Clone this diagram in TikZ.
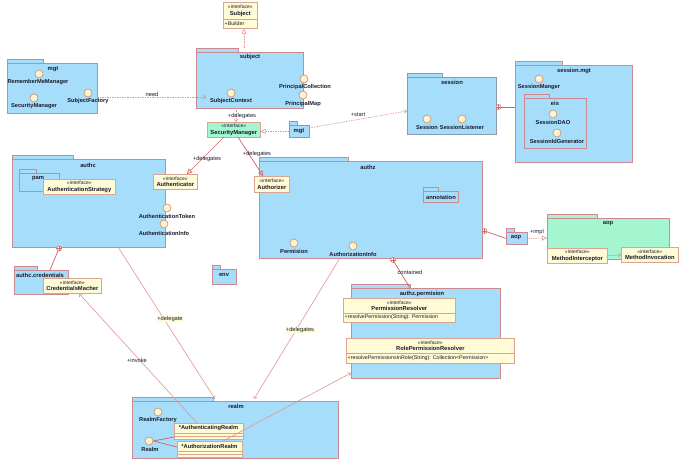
\documentclass[tikz,border=0pt]{standalone}
\usepackage{fontspec}
\setmainfont{Liberation Sans}
\usetikzlibrary{arrows.meta}
\definecolor{pkgfill}{HTML}{A6DDFB}
\definecolor{pkgline}{HTML}{CC8A90}
\definecolor{grayline}{HTML}{8A9BB0}
\definecolor{iffill}{HTML}{FFFBD6}
\definecolor{ifline}{HTML}{D9A58E}
\definecolor{greenfill}{HTML}{A4F6D0}
\definecolor{circfill}{HTML}{FFF2CF}
\definecolor{circline}{HTML}{C8906E}
\definecolor{conn}{HTML}{D06464}
\definecolor{connl}{HTML}{E39494}
\definecolor{txt}{HTML}{1A1A2A}
\tikzset{
 pkgb/.style={draw=pkgline, fill=pkgfill, line width=0.8pt, inner sep=0pt},
 pkgt/.style={draw=pkgline, fill=pkgfill, line width=0.8pt},
 ptitle/.style={font=\fontsize{5.8}{6.3}\selectfont\bfseries, text=txt, inner sep=0pt},
 lbl/.style={font=\fontsize{5.7}{6.3}\selectfont\bfseries, text=txt, inner sep=0pt},
 ifc/.style={draw=ifline, fill=iffill, line width=0.7pt, align=center, inner sep=0.5pt, font=\fontsize{5.8}{6.3}\selectfont, text=txt},
 attr/.style={font=\fontsize{5.3}{6}\selectfont, text=txt, inner sep=0pt},
 circ/.style={circle, draw=circline, fill=circfill, minimum size=8pt, inner sep=0pt, line width=0.6pt},
 dep/.style={draw=connl, dash pattern=on 1.5pt off 1pt, line width=0.6pt},
 sol/.style={draw=conn, line width=0.7pt},
 soll/.style={draw=connl, line width=0.6pt},
 opentri/.style={-{Triangle[open,length=5pt,width=5pt]}},
 openarr/.style={-{Straight Barb[length=2.5pt,width=4pt]}},
 clbl/.style={font=\fontsize{5.7}{6.3}\selectfont, text=txt, inner sep=0.5pt},
 ylbl/.style={clbl, fill=iffill},
 cplus/.style={circle, draw=conn, fill=white, minimum size=5pt, inner sep=0pt, line width=0.5pt,
   path picture={\draw[conn, line width=0.4pt] (path picture bounding box.north) -- (path picture bounding box.south) (path picture bounding box.west) -- (path picture bounding box.east);}},
}
\newcommand\ifname[1]{{\fontsize{5}{6.3}\selectfont «interface»}\\{\bfseries #1}}
\newcommand\pkgdraw[7][]{%
 \draw[pkgt,#1] (#3,#4-4) rectangle (#7,#4);
 \node[pkgb,#1,minimum width=#5-#3,minimum height=#6-#4,anchor=north west] (#2) at (#3,#4) {};}
\newcommand\icon[6]{\node[circ] (#1) at (#2,#3) {}; \node[lbl] (#1l) at (#4,#5) {#6};}
\begin{document}
\begin{tikzpicture}[x=1pt,y=-1pt]
\useasboundingbox[fill=white] (0,0) rectangle (690,470);

% ---------- packages ----------
\pkgdraw{subjectP}{196}{52}{303}{108}{238}
\pkgdraw{mgtP}{7}{63}{97}{113}{43}
\pkgdraw[draw=grayline]{mgtS}{289}{125}{309}{137}{297}
\pkgdraw[draw=grayline]{sessionP}{407}{77}{496}{134}{442}
\pkgdraw{smgtP}{515}{65}{632}{162}{562}
\pkgdraw{eisP}{524}{98}{586}{148}{549}
\pkgdraw{authcP}{12}{159}{165}{247}{73}
\pkgdraw{pamP}{19}{173}{59}{191}{36}
\pkgdraw{credP}{14}{270}{68}{294}{37}
\pkgdraw{envP}{212}{269}{236}{284}{220}
\pkgdraw{authzP}{259}{161}{482}{258}{348}
\pkgdraw{annoP}{423}{191}{458}{202}{438}
\pkgdraw{aopS}{506}{232}{527}{244}{514}
\pkgdraw[fill=greenfill]{aopP}{547}{218}{669}{259}{597}
\pkgdraw{permP}{351}{288}{500}{378}{410}
\pkgdraw{realmP}{132}{401}{338}{458}{213}

% ---------- package titles ----------
\node[ptitle] (subjectT) at (250,57) {subject};
\node[ptitle] (mgtT) at (53,69) {mgt};
\node[ptitle] (mgtST) at (299,131.5) {mgt};
\node[ptitle] (sessionT) at (452,82.5) {session};
\node[ptitle] (smgtT) at (574,71) {session.mgt};
\node[ptitle] (eisT) at (555,103.5) {eis};
\node[ptitle] (authcT) at (88,165) {authc};
\node[ptitle] (pamT) at (38,178.5) {pam};
\node[ptitle] (credT) at (40,275) {authc.credentials};
\node[ptitle] (envT) at (224,275) {env};
\node[ptitle] (authzT) at (368,167) {authz};
\node[ptitle] (annoT) at (441,197) {annotation};
\node[ptitle] (aopST) at (516,237.5) {aop};
\node[ptitle] (aopT) at (608,224) {aop};
\node[ptitle] (permT) at (422,294) {authz.permision};
\node[ptitle] (realmT) at (236,406) {realm};

% ---------- interfaces ----------
\node[ifc, minimum width=34, minimum height=17, anchor=north west] (subjectI) at (223,2) {\ifname{Subject}};
\node[ifc, minimum width=34, minimum height=9, anchor=north west] (subjectIb) at (223,19) {};
\node[attr, anchor=west] (subjectIbt) at (224.5,23.5) {+Builder};

\node[ifc, fill=greenfill, minimum width=53, minimum height=15, anchor=north west] (SM) at (207,122) {\ifname{SecurityManager}};
\node[ifc, minimum width=44, minimum height=15, anchor=north west] (authI) at (153,174) {\ifname{Authenticator}};
\node[ifc, minimum width=72, minimum height=15, anchor=north west] (stratI) at (43,179) {\ifname{AuthenticationStrategy}};
\node[ifc, minimum width=35, minimum height=16, anchor=north west] (authzI) at (254,176) {\ifname{Authorizer}};
\node[ifc, minimum width=58, minimum height=15, anchor=north west] (credI) at (43,278) {\ifname{CredentialsMacher}};
\node[ifc, minimum width=60, minimum height=15, anchor=north west] (miI) at (547,248) {\ifname{MethodInterceptor}};
\node[ifc, minimum width=57, minimum height=15, anchor=north west] (mvI) at (621,247) {\ifname{MethodInvocation}};

\node[ifc, minimum width=112, minimum height=15, anchor=north west] (prI) at (343,298) {\ifname{PermissionResolver}};
\node[ifc, minimum width=112, minimum height=9, anchor=north west] (prIb) at (343,313) {};
\node[attr, anchor=west] (prIbt) at (344.5,317.5) {+resolvePermission(String): Permission};

\node[ifc, minimum width=168, minimum height=15, anchor=north west] (rprI) at (346,338) {\ifname{RolePermissionResolver}};
\node[ifc, minimum width=168, minimum height=10, anchor=north west] (rprIb) at (346,353) {};
\node[attr, anchor=west] (rprIbt) at (347.5,358) {+resolvePermissionsInRole(String): Collection<Permission>};

% ---------- realm classes ----------
\node[ifc, minimum width=69, minimum height=10, anchor=north west] (aRealm) at (174,423) {};
\node[lbl] (aRealmT) at (208.5,428) {*AuthenticatingRealm};
\node[ifc, minimum width=69, minimum height=3, anchor=north west] (aRealm2) at (174,433) {};
\node[ifc, minimum width=69, minimum height=3, anchor=north west] (aRealm3) at (174,436) {};
\node[ifc, minimum width=65, minimum height=10, anchor=north west] (zRealm) at (177,441) {};
\node[lbl] (zRealmT) at (209.5,446) {*AuthorizationRealm};
\node[ifc, minimum width=65, minimum height=3, anchor=north west] (zRealm2) at (177,451) {};
\node[ifc, minimum width=65, minimum height=3, anchor=north west] (zRealm3) at (177,454) {};

% ---------- interface circles ----------
\icon{sctx}{231}{93}{231}{101}{SubjectContext}
\icon{pcol}{304}{79}{305}{87}{PrincipalCollection}
\icon{pmap}{303}{95}{303}{104}{PrincipalMap}
\icon{rmm}{39}{74}{38}{82}{RememberMeManager}
\icon{secm}{34}{98}{34}{106}{SecurityManager}
\icon{sfac}{88}{93}{88}{101}{SubjectFactory}
\icon{sess}{427}{119}{427}{127}{Session}
\icon{sesl}{462}{119}{462}{127}{SessionListener}
\icon{smgr}{539}{79}{539}{87}{SessionManger}
\icon{sdao}{553}{114}{553}{122}{SessionDAO}
\icon{sidg}{557}{133}{557}{141}{SessionIdGenerator}
\icon{atok}{167}{208}{167}{216}{AuthenticationToken}
\icon{ainf}{164}{224}{164}{233}{AuthenticationInfo}
\icon{perm}{294}{243}{294}{251}{Permision}
\icon{zinf}{353}{246}{353}{254}{AuthorizationInfo}
\icon{rfac}{158}{412}{158}{420}{RealmFactory}
\icon{realmC}{149}{441}{150}{449}{Realm}

% ---------- connectors ----------
\coordinate (subjUp) at (244,48);
\draw[dep, opentri] (subjUp) -- (subjUp |- subjectIb.south);

\coordinate (needS) at (97,97);
\coordinate (needE) at (206,97);
\draw[dep, openarr] (needS) -- (needE);
\node[clbl] (needL) at (152,94.5) {need};

\coordinate (smDelS) at (236,108);
\draw[dep, openarr] (smDelS) -- (smDelS |- SM.north);
\node[clbl] (smDelL) at (242,116) {+delegates};

\draw[dep, opentri] (mgtS.west) -- (SM.east |- mgtS.west);

\coordinate (startS) at (309,128);
\coordinate (startE) at (407,111);
\draw[dep, openarr] (startS) -- (startE);
\node[clbl] (startL) at (358,114.5) {+start};

\node[cplus] (cpSess) at (498.5,107) {};
\draw[sol] (cpSess) -- (smgtP.west |- cpSess);

\coordinate (smA) at (224,137);
\coordinate (smB) at (238,137);
\draw[sol, opentri] (smA) -- (187,174);
\node[clbl] (smAL) at (207,159) {+delegates};
\draw[sol, opentri] (smB) -- (263,176);
\node[clbl] (smBL) at (257,154) {+delegates};

\node[cplus] (cpAuthc) at (59,248.5) {};
\coordinate (credTop) at (50,270);
\draw[sol] (cpAuthc) -- (credTop);

\node[cplus] (cpAop) at (484.5,231) {};
\draw[sol] (cpAop) -- (aopS.west);

\coordinate (implE) at (547,238);
\draw[dep, opentri] (aopS.east) -- (implE);
\node[clbl] (implL) at (537,232) {+impl};

\draw[dep, openarr] (miI.east |- 0,255) -- (mvI.west |- 0,255);

\node[cplus] (cpPerm) at (393,260) {};
\coordinate (permTop) at (410,288);
\draw[sol] (cpPerm) -- (permTop);
\node[clbl] (contL) at (410,272) {contained};

\coordinate (dlgS) at (118,247);
\coordinate (dlgE) at (215,399);
\draw[soll, openarr] (dlgS) -- (dlgE);
\node[ylbl] (dlgL) at (170,319) {+delegate};

\coordinate (dlgsS) at (340,258);
\coordinate (dlgsE) at (254,399);
\draw[soll, openarr] (dlgsS) -- (dlgsE);
\node[ylbl] (dlgsL) at (300,330) {+delegates};

\coordinate (invS) at (197,423);
\coordinate (invE) at (79,293.5);
\draw[soll, openarr] (invS) -- (invE);
\node[clbl] (invL) at (137,360) {+invoke};

\coordinate (zrS) at (223,441);
\coordinate (zrE) at (351,373);
\draw[soll, openarr] (zrS) -- (zrE);

\draw[sol] (realmC.east) -- (aRealm.west |- 0,437);
\draw[sol] (realmC.east) -- (zRealm.west |- 0,447);
\end{tikzpicture}
\end{document}
